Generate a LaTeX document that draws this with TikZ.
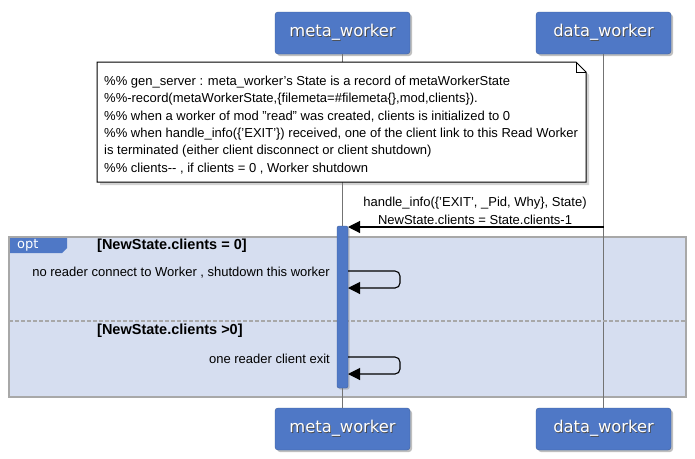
\documentclass[tikz,border=0pt]{standalone}
\usepackage{fontspec}
\setmainfont{Liberation Sans}
\newfontfamily\hdfont{DejaVu Sans}
\usetikzlibrary{arrows.meta,shadows}
\definecolor{pblue}{HTML}{4F78C6}
\definecolor{pfill}{HTML}{D6DEF0}
\definecolor{pgray}{HTML}{A8A8A8}
\newcommand{\shtext}[1]{\leavevmode\rlap{\raisebox{-0.8pt}{\hspace*{0.8pt}\textcolor{black!70}{#1}}}#1}
\tikzset{
  x=1pt,y=-1pt,
  partbox/.style={draw=pblue!80!black,fill=pblue,rounded corners=3pt,minimum width=135pt,minimum height=42pt,
     text=white,font=\hdfont\fontsize{16.3}{18}\selectfont,inner sep=0pt,
     drop shadow={shadow xshift=2pt,shadow yshift=-2pt,opacity=0.5}},
  lifeline/.style={draw=black!55,line width=0.9pt},
  msg/.style={draw=black,line width=1.1pt,-{Triangle[length=12pt,width=12pt]}},
  txt/.style={font=\fontsize{13}{16}\selectfont,inner sep=0pt},
  guard/.style={font=\bfseries\fontsize{14.5}{16}\selectfont,inner sep=0pt},
}
\begin{document}
\begin{tikzpicture}
\useasboundingbox (0,0) rectangle (695,458);
\fill[white] (0,0) rectangle (695,458);
% participants
\node[partbox] (mt) at (342.5,33) {\shtext{meta\_worker}};
\node[partbox] (dt) at (603.5,33) {\shtext{data\_worker}};
\node[partbox] (mb) at (342.5,429) {\shtext{meta\_worker}};
\node[partbox] (db) at (603.5,429) {\shtext{data\_worker}};
% frame
\draw[pgray,fill=pfill,line width=1.2pt] (9,237) rectangle (686,397);
% lifelines
\draw[lifeline] (mt.south) -- (mb.north);
\draw[lifeline] (dt.south) -- (db.north);
% divider
\draw[pgray,line width=1.2pt,dash pattern=on 4pt off 2pt] (9,321) -- (686,321);
% opt tab
\fill[pblue] (10,238) -- (67,238) -- (67,248) -- (62,253) -- (10,253) -- cycle;
\node[font=\hdfont\fontsize{13}{14}\selectfont,text=white,anchor=west,inner sep=0pt] (opt) at (17,245.5) {opt};
\node[guard,anchor=west] (g1) at (97,246) {[NewState.clients = 0]};
\node[guard,anchor=west] (g2) at (97,331) {[NewState.clients >0]};
% note
\draw[black,fill=white,line width=1pt,drop shadow={shadow xshift=3pt,shadow yshift=-3pt,opacity=0.35}]
  (97,62) -- (576,62) -- (586,72) -- (586,182) -- (97,182) -- cycle;
\draw[black,line width=0.8pt] (576,62) -- (576,72) -- (586,72);
\node[txt,anchor=north west,align=left,font=\fontsize{13}{17.3}\selectfont] (note) at (104,76) {%
\%\% gen\_server : meta\_worker's State is a record of metaWorkerState\\
\%\%-record(metaWorkerState,\{filemeta=\#filemeta\{\},mod,clients\}).\\
\%\% when a worker of mod "read" was created, clients is initialized to 0\\
\%\% when handle\_info(\{'EXIT'\}) received, one of the client link to this Read Worker\\
is terminated (either client disconnect or client shutdown)\\
\%\% clients-{}- , if clients = 0 , Worker shutdown};
% activation
\node[draw=pblue!80!black,fill=pblue,rounded corners=2pt,minimum width=11pt,minimum height=162pt,inner sep=0pt,
  drop shadow={shadow xshift=1.5pt,shadow yshift=-1.5pt,opacity=0.4}] (act) at (342.5,307) {};
% message
\coordinate (ms) at (603.5,227);
\coordinate (me) at (348,227);
\draw[msg] (ms) -- (me);
\node[txt] (l1) at (475,203) {handle\_info(\{'EXIT', \_Pid, Why\}, State)};
\node[txt] (l2) at (475,219.5) {NewState.clients = State.clients-1};
% self messages
\coordinate (s1a) at (348,271);
\coordinate (s1b) at (348,288);
\draw[msg,rounded corners=5pt] (s1a) -- (400,271) -- (400,288) -- (s1b);
\node[txt,anchor=east] (t1) at (330,273) {no reader connect to Worker , shutdown this worker};
\coordinate (s2a) at (348,357);
\coordinate (s2b) at (348,374);
\draw[msg,rounded corners=5pt] (s2a) -- (400,357) -- (400,374) -- (s2b);
\node[txt,anchor=east] (t2) at (330,359) {one reader client exit};
\end{tikzpicture}
\end{document}
